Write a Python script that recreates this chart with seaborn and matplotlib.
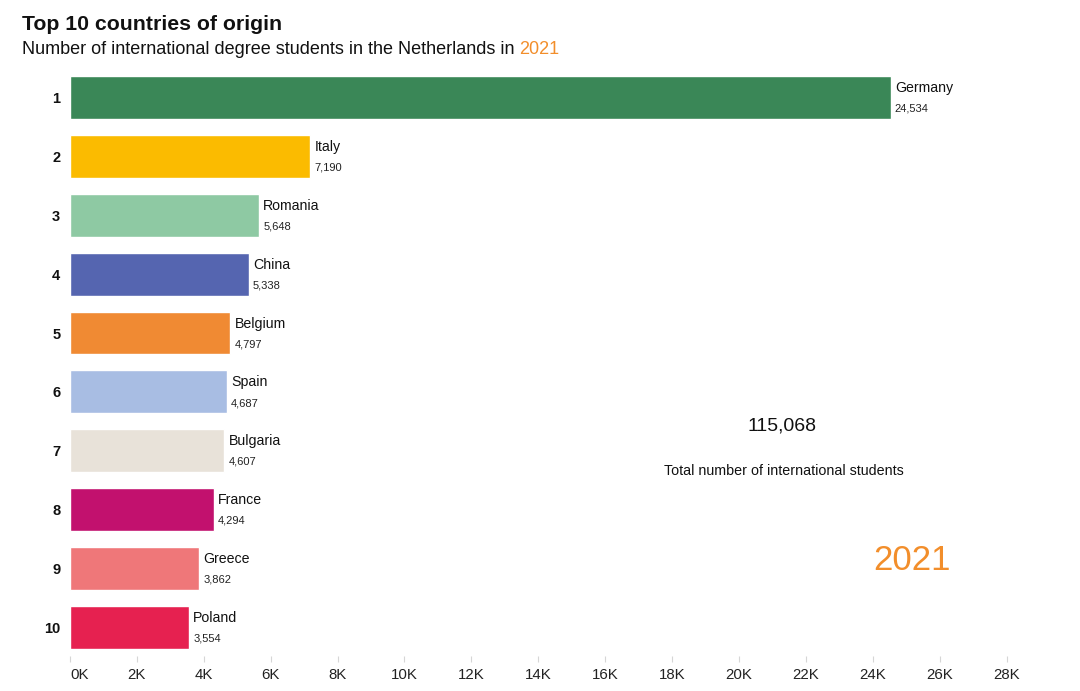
import matplotlib
matplotlib.use('Agg')
import matplotlib.pyplot as plt
import seaborn as sns
import pandas as pd

# Data
countries = ['Germany', 'Italy', 'Romania', 'China', 'Belgium',
             'Spain', 'Bulgaria', 'France', 'Greece', 'Poland']
students = [24534, 7190, 5648, 5338, 4797, 4687, 4607, 4294, 3862, 3554]
ranks = [str(i) for i in range(1, 11)]
bar_colors = ['#3a8757', '#fbbb00', '#8ec9a3', '#5565b0', '#f08a33',
              '#a8bde3', '#e8e2d9', '#c2116e', '#ef7779', '#e62150']
xticks = list(range(0, 28001, 2000))
xtick_labels = [f'{v // 1000}K' for v in xticks]
total_students = 115068
year = '2021'

df = pd.DataFrame({'rank': ranks, 'country': countries, 'students': students})

sns.set_theme(style='white')
plt.rcParams['font.family'] = ['Liberation Sans', 'DejaVu Sans']

fig = plt.figure(figsize=(10.8, 6.91), dpi=100)
ax = fig.add_axes([70 / 1080, 0.05, (1006.5 - 70) / 1080, 0.851])

sns.barplot(data=df, x='students', y='rank', hue='rank', palette=dict(zip(ranks, bar_colors)),
            orient='h', width=0.73, legend=False, saturation=1, ax=ax)

ax.set_xlim(0, 28000)
ax.set_ylim(9.5, -0.5)
ax.set_xticks(xticks)
ax.set_xticklabels(xtick_labels, fontsize=10.8, color='#222222')
ax.get_xticklabels()[0].set_horizontalalignment('left')
ax.tick_params(axis='x', bottom=True, length=4, color='#d6d6d6', pad=4, width=0.8)
ax.tick_params(axis='y', length=0, pad=7, labelsize=10.5)
for lab in ax.get_yticklabels():
    lab.set_fontweight('bold')
    lab.set_color('#111111')
ax.set_xlabel('')
ax.set_ylabel('')
for s in ax.spines.values():
    s.set_visible(False)

# country name and value next to each bar
for i, (c, v) in enumerate(zip(countries, students)):
    ax.text(v + 130, i - 0.16, c, fontsize=10.2, va='center', ha='left', color='#111111')
    ax.text(v + 130, i + 0.19, f'{v:,}', fontsize=8, va='center', ha='left', color='#222222')

# titles
fig.text(22 / 1080, 1 - 24 / 691, 'Top 10 countries of origin', fontsize=15.3,
         fontweight='bold', va='center', ha='left', color='#111111')
sub = fig.text(22 / 1080, 1 - 50 / 691, 'Number of international degree students in the Netherlands in ',
               fontsize=13, va='center', ha='left', color='#111111')
fig.canvas.draw()
bb = sub.get_window_extent()
fig.text(bb.x1 / fig.bbox.width, 1 - 50 / 691, year, fontsize=13,
         va='center', ha='left', color='#f28e2b')

# total annotation
fig.text(782 / 1080, 1 - 426 / 691, f'{total_students:,}', fontsize=14,
         va='center', ha='center', color='#111111')
fig.text(784 / 1080, 1 - 471 / 691, 'Total number of international students', fontsize=10.3,
         va='center', ha='center', color='#111111')
fig.text(912 / 1080, 1 - 560 / 691, year, fontsize=25, va='center', ha='center',
         color='#f28e2b')

fig.savefig('out.png', dpi=100, facecolor='white')
